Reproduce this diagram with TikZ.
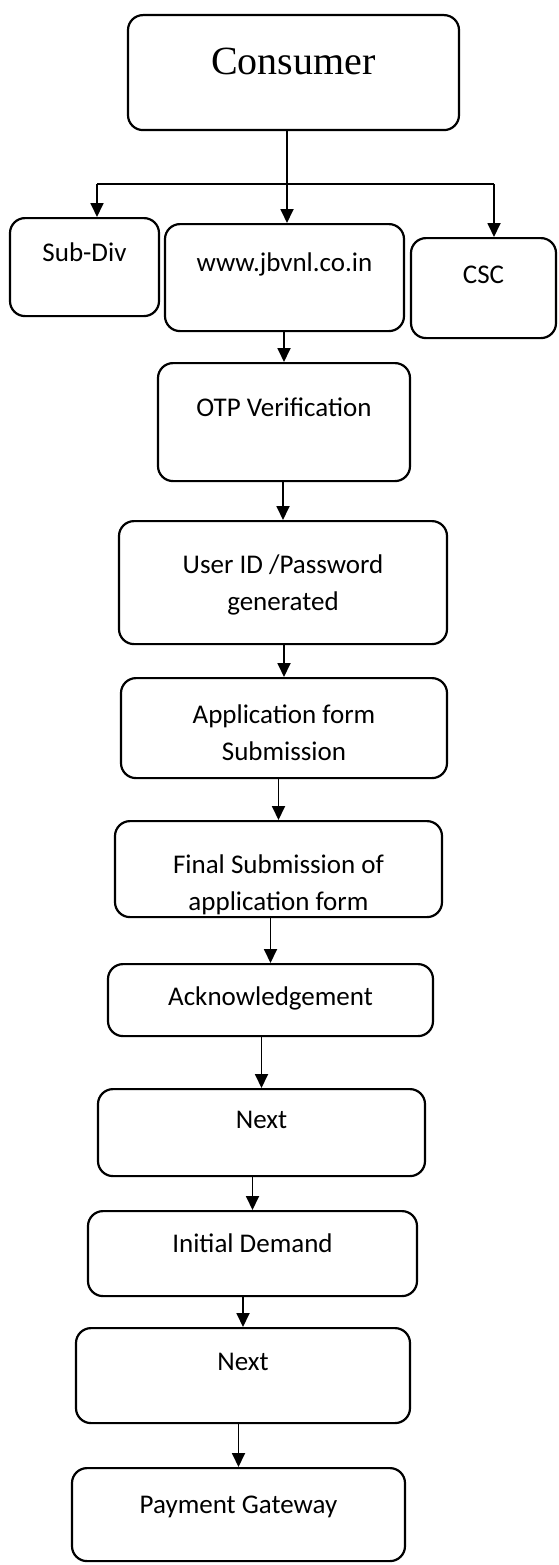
\documentclass[tikz,border=0pt]{standalone}
\usepackage{fontspec}
\setmainfont{Carlito}
\newfontfamily\consumerfont{Liberation Serif}
\usetikzlibrary{arrows.meta}

\begin{document}
\begin{tikzpicture}
[x=1pt,y=-1pt,
  boxdecorate/.style={shape=rectangle,draw,line width=2.2pt,rounded corners=15pt,
    inner sep=0pt,anchor=north,font=\fontsize{27}{37}\selectfont},
  arrowdecorate/.style={line width=1.8pt,-{Triangle[length=14pt,width=13pt]}},
  linedecorate/.style={-,line width=1.8pt}]
\useasboundingbox (0,0) rectangle (558,1565);
%% boxes: name/left/top/right/bottom/baseline/text
\foreach \nodename/\xa/\ya/\xb/\yb/\base/\txt in {
  consumer/128/14/459/129/59/{\consumerfont\fontsize{40}{44}\selectfont Consumer},
  subdiv/10/217/159/315/43/{Sub-Div},
  www/165/223/404/330/47/{www.jbvnl.co.in},
  csc/411/237/556/337/45/{CSC},
  otp/158/362/410/480/53/{OTP Verification},
  user/119/520/447/643/52/{User ID /Password\\generated},
  appform/121/677/447/777/45/{Application form\\Submission},
  final/115/820/442/916/52/{Final Submission of\\application form},
  ack/108/963/433/1035/41/{Acknowledgement},
  nextone/98/1088/425/1175/39/{Next},
  demand/88/1210/417/1295/41/{Initial Demand},
  nexttwo/76/1327/410/1422/42/{Next},
  payment/72/1467/405/1560/45/{Payment Gateway}} {
  \node (\nodename) at ({(\xa+\xb)/2},\ya) [boxdecorate]
    {\parbox[t][\dimexpr\yb pt-\ya pt\relax][t]{\dimexpr\xb pt-\xa pt\relax}{\centering\rule{0pt}{\base pt}\txt}};
}
%% branching under the consumer
\coordinate (split) at (287,184);
\coordinate (subturn) at (97,184);
\coordinate (cscturn) at (494,184);
\draw[linedecorate] (consumer.south -| split) -- (split);
\draw[linedecorate] (subturn) -- (cscturn);
\path
\foreach \startnode/\endnode in {subturn/subdiv, split/www, cscturn/csc} {
  (\startnode) edge[arrowdecorate] (\startnode |- \endnode.north)
};
%% chain of steps
\path
\foreach \startnode/\endnode in {www/otp, otp/user, user/appform, appform/final,
  final/ack, ack/nextone, nextone/demand, demand/nexttwo, nexttwo/payment} {
  (\startnode.south -| \endnode.north) edge[arrowdecorate] (\endnode.north)
};
\end{tikzpicture}
\end{document}
